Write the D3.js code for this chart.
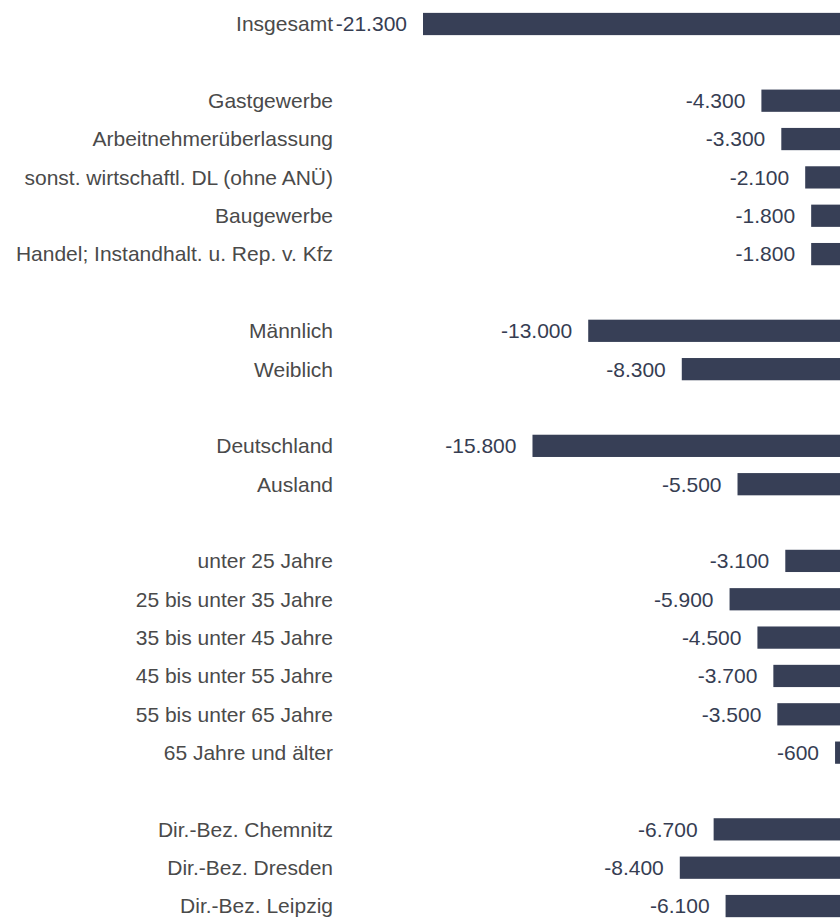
<!DOCTYPE html>
<html>
<head>
<meta charset="utf-8">
<script src="https://cdn.jsdelivr.net/npm/d3@7"></script>
<style>
  html, body { margin: 0; padding: 0; background: #ffffff; }
  svg { display: block; }
</style>
</head>
<body>
<svg id="chart" width="840" height="919"></svg>
<script>
// ---- Data ----
const totalLabels = ["Insgesamt"];
const totalValues = [-21300];

const industryLabels = ["Gastgewerbe", "Arbeitnehmerüberlassung", "sonst. wirtschaftl. DL (ohne ANÜ)", "Baugewerbe", "Handel; Instandhalt. u. Rep. v. Kfz"];
const industryValues = [-4300, -3300, -2100, -1800, -1800];

const genderLabels = ["Männlich", "Weiblich"];
const genderValues = [-13000, -8300];

const nationalityLabels = ["Deutschland", "Ausland"];
const nationalityValues = [-15800, -5500];

const ageLabels = ["unter 25 Jahre", "25 bis unter 35 Jahre", "35 bis unter 45 Jahre", "45 bis unter 55 Jahre", "55 bis unter 65 Jahre", "65 Jahre und älter"];
const ageValues = [-3100, -5900, -4500, -3700, -3500, -600];

const regionLabels = ["Dir.-Bez. Chemnitz", "Dir.-Bez. Dresden", "Dir.-Bez. Leipzig"];
const regionValues = [-6700, -8400, -6100];

const groups = [
  [totalLabels, totalValues],
  [industryLabels, industryValues],
  [genderLabels, genderValues],
  [nationalityLabels, nationalityValues],
  [ageLabels, ageValues],
  [regionLabels, regionValues]
];

// Build rows with spacer rows between groups
const rows = [];
groups.forEach((g, gi) => {
  if (gi > 0) rows.push({ key: "spacer" + gi, label: null, value: null });
  g[0].forEach((lab, i) => rows.push({ key: "r" + rows.length, label: lab, value: g[1][i] }));
});

// ---- Layout ----
const svg = d3.select("#chart");
const step = 38.35;
const firstCenter = 24;
const y = d3.scaleBand()
  .domain(rows.map(d => d.key))
  .range([firstCenter - step / 2, firstCenter - step / 2 + step * rows.length])
  .paddingInner(0.42)
  .paddingOuter(0.21);

const x = d3.scaleLinear()
  .domain([-21300, 0])
  .range([423, 847]);

const barColor = "#373f56";
const valueColor = "#363d52";
const labelColor = "#4a4a4a";
const fontFamily = "'Liberation Sans', Arial, Helvetica, sans-serif";
const fontSize = 21;

const data = rows.filter(d => d.label !== null);

// Bars
svg.append("g").selectAll("rect")
  .data(data)
  .join("rect")
  .attr("x", d => x(d.value))
  .attr("y", d => y(d.key))
  .attr("width", d => x(0) - x(d.value))
  .attr("height", y.bandwidth())
  .attr("fill", barColor);

// Category labels
svg.append("g").selectAll("text")
  .data(data)
  .join("text")
  .attr("x", 333)
  .attr("y", d => y(d.key) + y.bandwidth() / 2)
  .attr("dy", "0.35em")
  .attr("text-anchor", "end")
  .attr("font-family", fontFamily)
  .attr("font-size", fontSize)
  .attr("fill", labelColor)
  .text(d => d.label);

// Value labels
const fmt = v => d3.format(",")(v).replace(/,/g, ".").replace("−", "-");
svg.append("g").selectAll("text")
  .data(data)
  .join("text")
  .attr("x", d => x(d.value) - 16)
  .attr("y", d => y(d.key) + y.bandwidth() / 2)
  .attr("dy", "0.35em")
  .attr("text-anchor", "end")
  .attr("font-family", fontFamily)
  .attr("font-size", fontSize)
  .attr("fill", valueColor)
  .text(d => fmt(d.value));
</script>
</body>
</html>
